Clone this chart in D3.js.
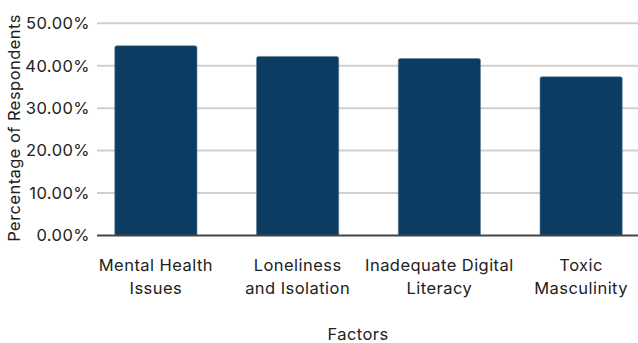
<!DOCTYPE html>
<html><head><meta charset="utf-8">
<script src="https://cdn.jsdelivr.net/npm/d3@7"></script>
<style>body{margin:0;background:#fff}svg{display:block}text{font-family:Inter,"Open Sans",sans-serif;fill:#222;letter-spacing:0.45px}</style>
</head><body><svg id="c" width="638" height="343"></svg>
<script>
const categories = [["Mental Health","Issues"],["Loneliness","and Isolation"],["Inadequate Digital","Literacy"],["Toxic","Masculinity"]];
const values = [44.7, 42.2, 41.7, 37.4];
const yTicks = [0,10,20,30,40,50];

(function(){
const FONT = "Inter, 'Open Sans', sans-serif";
const FS = 16.5;
const svg = d3.select("#c");
const plotL = 97, plotR = 638, plotTop = 23.3, plotBottom = 235.5;
const y = d3.scaleLinear().domain([0,50]).range([plotBottom, plotTop]);
const x = d3.scaleBand().domain(categories.map((d,i)=>i)).range([85,652]).paddingInner(0.42).paddingOuter(0.21);

svg.append("g").selectAll("line").data(yTicks.filter(t=>t>0)).join("line")
  .attr("x1",plotL).attr("x2",plotR).attr("y1",d=>y(d)).attr("y2",d=>y(d))
  .attr("stroke","#cfcfcf").attr("stroke-width",2);

const yAxis = d3.axisLeft(y).tickValues(yTicks).tickSize(0).tickPadding(6).tickFormat(d=>d.toFixed(2)+"%");
const ga = svg.append("g").attr("transform",`translate(${plotL-1},0)`).call(yAxis);
ga.select(".domain").remove();
ga.selectAll("text").attr("font-size",FS).attr("fill","#222").style("font-family",FONT);

svg.append("g").selectAll("path").data(values).join("path")
  .attr("d",(d,i)=>{
    const x0=x(i), w=x.bandwidth(), y0=y(d), yb=y(0), r=2;
    return `M${x0},${yb}V${y0+r}Q${x0},${y0} ${x0+r},${y0}H${x0+w-r}Q${x0+w},${y0} ${x0+w},${y0+r}V${yb}Z`;
  })
  .attr("fill","#0c3c61").attr("stroke","#5d7e98").attr("stroke-width",0.6);

svg.append("line").attr("x1",plotL).attr("x2",plotR).attr("y1",y(0)).attr("y2",y(0))
  .attr("stroke","#444").attr("stroke-width",2);

const gx = svg.append("g");
categories.forEach((lines,i)=>{
  const cx = x(i)+x.bandwidth()/2;
  const t = gx.append("text").attr("x",cx).attr("y",271).attr("text-anchor","middle").attr("font-size",FS);
  lines.forEach((l,j)=>t.append("tspan").attr("x",cx).attr("dy",j?23:0).text(l));
});

svg.append("text").attr("x",358).attr("y",340).attr("text-anchor","middle").attr("font-size",FS).text("Factors");
svg.append("text").attr("transform","translate(20,128) rotate(-90)").attr("text-anchor","middle").attr("font-size",FS).text("Percentage of Respondents");
})();
</script></body></html>
